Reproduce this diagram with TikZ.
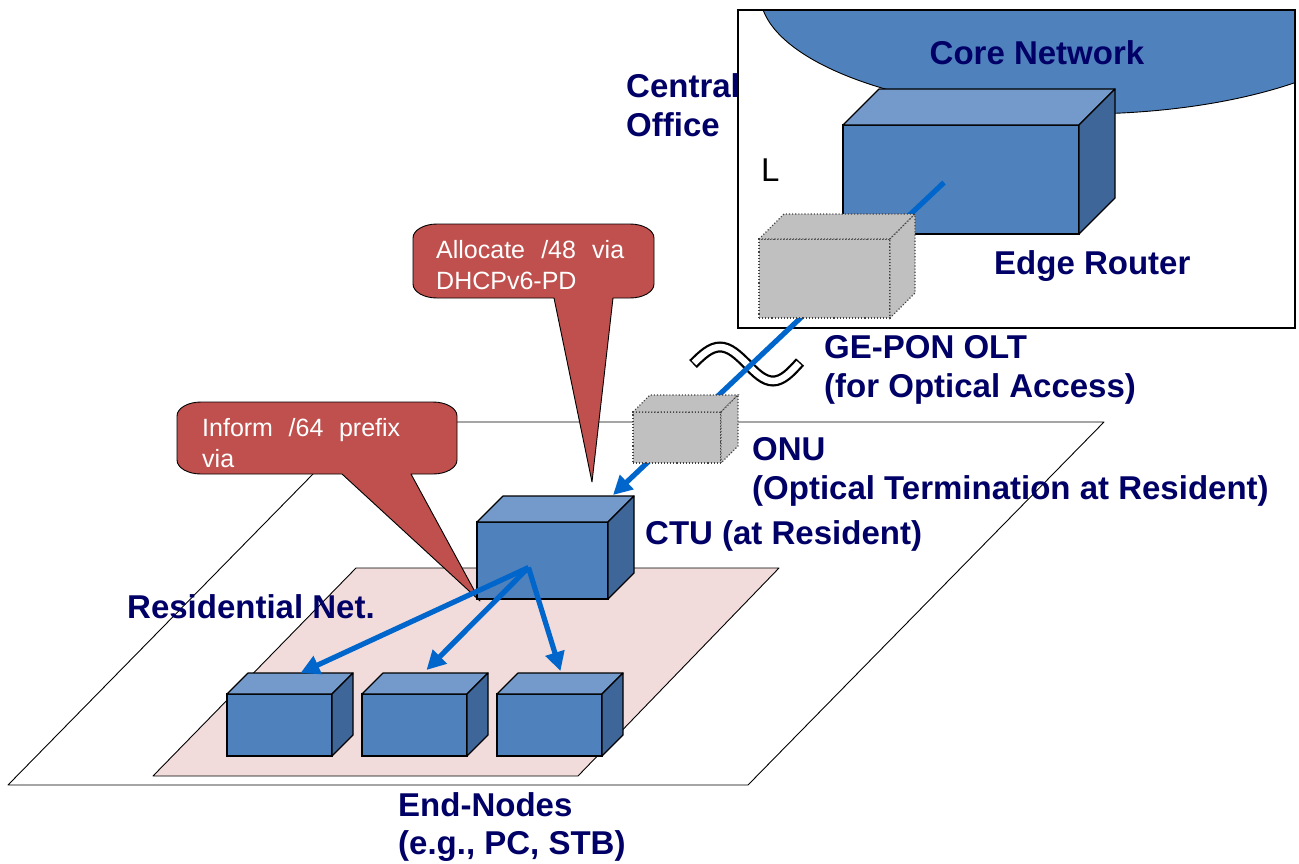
\documentclass[tikz,border=0pt]{standalone}
\usepackage{fontspec}
\setmainfont{Liberation Sans}
\usepackage{tikz}
\usetikzlibrary{arrows.meta, calc}
\definecolor{navytext}{RGB}{0,0,102}
\definecolor{cubefront}{RGB}{79,129,189}
\definecolor{cubetop}{RGB}{115,154,202}
\definecolor{cubeside}{RGB}{62,102,153}
\definecolor{oltgray}{RGB}{192,192,192}
\definecolor{linkblue}{RGB}{0,102,204}
\definecolor{calloutred}{RGB}{192,80,77}
\definecolor{resipink}{RGB}{242,220,219}

% box with top and side face: style, name, x, y, width, height, depth
\newcommand{\boxcube}[7]{%
  \node[#1, anchor=north west, minimum width=#5pt, minimum height=#6pt] (#2) at (#3,#4) {};
  \filldraw[#1 top] (#2.north west) -- ++(#7,-#7) -- ++(#5,0) -- (#2.north east) -- cycle;
  \filldraw[#1 side] (#2.north east) -- ++(#7,-#7) -- ++(0,#6) -- (#2.south east) -- cycle;
}

\begin{document}
\begin{tikzpicture}[x=1pt, y=-1pt,
    lbl/.style={font=\fontsize{33}{38.5}\selectfont\bfseries, text=navytext, align=left, inner sep=0pt, anchor=west},
    bluecube/.style={draw=black, line width=1.2pt, fill=cubefront, inner sep=0pt, outer sep=0pt},
    bluecube top/.style={draw=black, line width=1.2pt, fill=cubetop, line join=round},
    bluecube side/.style={draw=black, line width=1.2pt, fill=cubeside, line join=round},
    graycube/.style={draw=black!75, line width=1.1pt, dotted, fill=oltgray, inner sep=0pt, outer sep=0pt},
    graycube top/.style={draw=black!75, line width=1.1pt, dotted, fill=oltgray},
    graycube side/.style={draw=black!75, line width=1.1pt, dotted, fill=oltgray},
    plane/.style={draw=black, line width=0.9pt, line join=round},
    callout/.style={draw=black, line width=0.9pt, fill=calloutred, line join=round},
    callouttext/.style={font=\fontsize{25}{31}\selectfont, text=white, align=left, inner sep=0pt, anchor=west},
    link/.style={draw=linkblue, line width=5.2pt},
    linkarrow/.style={link, -{Triangle[length=19pt, width=19pt]}}]

  \useasboundingbox (0,0) rectangle (1299,863);
  \fill[white] (0,0) rectangle (1299,863);

  % Central office and core network
  \node[draw, line width=1.6pt, fill=white, minimum width=557pt, minimum height=318pt, anchor=north west, inner sep=0pt, outer sep=0pt] (office) at (738,10) {};
  \begin{scope}
    \clip (office.north west) rectangle (office.south east);
    \filldraw[fill=cubefront, draw=black, line width=0.9pt] (1080,-7) ellipse [x radius=320, y radius=121];
  \end{scope}
  \draw[line width=1.6pt] (office.north west) rectangle (office.south east);
  \node[lbl, anchor=center] (corelbl) at (1037,53) {Core Network};
  \node[anchor=west, inner sep=0pt, font=\fontsize{33}{38.5}\selectfont] (lmark) at (761,170) {L};

  % Edge router
  \boxcube{bluecube}{router}{843}{125}{236}{109}{36}

  % Access and residential planes
  \filldraw[plane, fill=white] (364,422) -- (1104,422) -- (748,785) -- (8,785) -- cycle;
  \filldraw[plane, fill=resipink] (356,568) -- (779,568) -- (578,776) -- (153,776) -- cycle;

  % Callouts
  \filldraw[callout] (554,298) -- (592,482) -- (613,298) -- (630,298)
    arc[start angle=90, end angle=0, x radius=24, y radius=14] -- (654,238)
    arc[start angle=0, end angle=-90, x radius=24, y radius=14] -- (437,224)
    arc[start angle=-90, end angle=-180, x radius=24, y radius=14] -- (413,284)
    arc[start angle=180, end angle=90, x radius=24, y radius=14] -- cycle;
  \node[callouttext, text width=188pt] (alloctext) at (436,265) {Allocate \hfill /48 \hfill via\\DHCPv6-PD};

  \filldraw[callout] (342,474) -- (480,601) -- (411,474) -- (433,474)
    arc[start angle=90, end angle=0, x radius=24, y radius=14] -- (457,416)
    arc[start angle=0, end angle=-90, x radius=24, y radius=14] -- (201,402)
    arc[start angle=-90, end angle=-180, x radius=24, y radius=14] -- (177,460)
    arc[start angle=180, end angle=90, x radius=24, y radius=14] -- cycle;
  \node[callouttext, text width=198pt] (informtext) at (202,443) {Inform \hfill /64 \hfill prefix\\via};

  % CTU and end nodes
  \boxcube{bluecube}{ctu}{477}{522}{131}{77}{26}
  \boxcube{bluecube}{pc1}{227}{694}{105}{62}{21}
  \boxcube{bluecube}{pc2}{362}{694}{105}{62}{21}
  \boxcube{bluecube}{pc3}{497}{694}{105}{62}{21}

  % Fibre with break mark
  \draw[line width=11pt] (693,364) sin (720,347) cos (747,364) sin (773,381) cos (800,362);
  \draw[line width=6.5pt, white, shorten <=1.5pt, shorten >=1.5pt] (693,364) sin (720,347) cos (747,364) sin (773,381) cos (800,362);
  \draw[linkarrow] ($(router.center)+(-17,3)$) -- ($(ctu.north east)+(5,-27)$);

  % OLT and ONU
  \boxcube{graycube}{olt}{759}{239}{131}{79}{25}
  \boxcube{graycube}{onu}{633}{412}{88}{51}{17}

  % Residential links
  \draw[linkarrow] ($(ctu.center)+(-14,7)$) -- ($(pc1.north)+(21,-21)$);
  \draw[linkarrow] ($(ctu.center)+(-14,7)$) -- ($(pc2.north)+(12,-24)$);
  \draw[linkarrow] ($(ctu.center)+(-14,7)$) -- ($(pc3.north)+(11,-23)$);

  % Labels
  \node[lbl] (colbl) at (626,105) {Central\\Office};
  \node[lbl] (routerlbl) at (994,266) {Edge Router};
  \node[lbl] (oltlbl) at (824,370) {GE-PON OLT\\(for Optical Access)};
  \node[lbl] (onulbl) at (752,472) {ONU\\(Optical Termination at Resident)};
  \node[lbl] (ctulbl) at (645,536) {CTU (at Resident)};
  \node[lbl] (reslbl) at (127,607) {Residential Net.};
  \node[lbl] (endlbl) at (398,827) {End-Nodes\\(e.g., PC, STB)};
\end{tikzpicture}
\end{document}
